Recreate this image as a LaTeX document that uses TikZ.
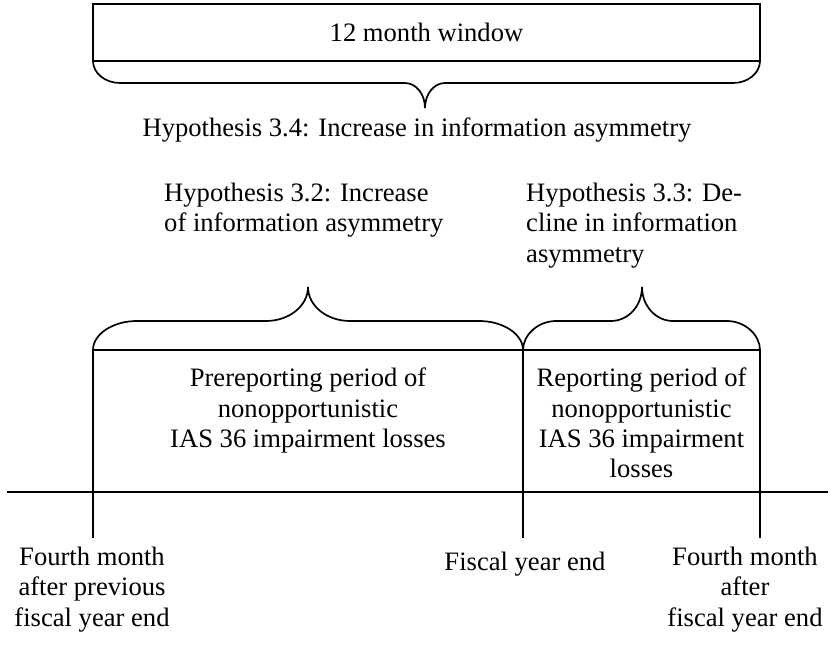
\documentclass[tikz,border=0pt]{standalone}
\usepackage{fontspec}
\setmainfont{Liberation Serif}
\tikzset{
    every node/.style={inner sep=0pt, font=\fontsize{26.6}{30.4}\selectfont}, % size of all the texts
    line/.style={line width=1.7pt}, % box edges and braces
    axis/.style={line width=2.2pt}, % the time line
    tick/.style={line width=1.4pt}, % borders of the periods
    lbl/.style={align=center, anchor=north}, % centred texts
    hyp/.style={align=left, anchor=north west}, % hypothesis texts
}
\begin{document}
\begin{tikzpicture}[x=1pt, y=-1pt]
    \useasboundingbox (0,0) rectangle (831,652);
    % window on top
    \node[draw, line, minimum width=667pt, minimum height=57pt] (win) at (426.5,32.5) {12 month window};
    \draw[line] (93,61) .. controls (93,73) and (105,83) .. (120,83) -- (405,83)
        .. controls (416,83) and (425,94) .. (425,108) .. controls (425,94) and (434,83) .. (445,83)
        -- (733,83) .. controls (748,83) and (760,73) .. (760,61);
    \node[anchor=base] (h34) at (417,137) {Hypothesis 3.4: Increase in information asymmetry};
    % hypotheses on the periods
    \node[hyp] (h32) at (164,182.8) {Hypothesis 3.2: Increase\\of information asymmetry};
    \node[hyp] (h33) at (526,182.8) {Hypothesis 3.3: De-\\cline in information\\asymmetry};
    \draw[line] (93,350) .. controls (93,334) and (113,321) .. (137,321) -- (266,321)
        .. controls (289,321) and (308,306) .. (308,287) .. controls (308,306) and (327,321) .. (350,321)
        -- (479,321) .. controls (503,321) and (523,334) .. (523,350);
    \draw[line] (523,350) .. controls (523,335) and (538,321) .. (556,321) -- (611,321)
        .. controls (628,321) and (642,306) .. (642,287) .. controls (642,306) and (656,321) .. (673,321)
        -- (727,321) .. controls (745,321) and (760,335) .. (760,350);
    % periods
    \coordinate (t1) at (93,350);
    \coordinate (t2) at (523,350);
    \coordinate (t3) at (760,350);
    \coordinate (b1) at (93,538);
    \coordinate (b2) at (523,538);
    \coordinate (b3) at (760,538);
    \draw[line] (t1) -- (t3);
    \draw[tick] (t1) -- (b1);
    \draw[tick] (t2) -- (b2);
    \draw[tick] (t3) -- (b3);
    \node[lbl] (pre) at (308,367.8) {Prereporting period of\\nonopportunistic\\IAS 36 impairment losses};
    \node[lbl] (rep) at (641.5,367.8) {Reporting period of\\nonopportunistic\\IAS 36 impairment\\losses};
    % time line
    \coordinate (al) at (7,492);
    \coordinate (ar) at (828,492);
    \draw[axis] (al) -- (ar);
    \node[lbl] (prev) at (92,546.8) {Fourth month\\after previous\\fiscal year end};
    \node[lbl] (fye) at (525,551.8) {Fiscal year end};
    \node[lbl] (next) at (745,546.8) {Fourth month\\after\\fiscal year end};
\end{tikzpicture}
\end{document}
